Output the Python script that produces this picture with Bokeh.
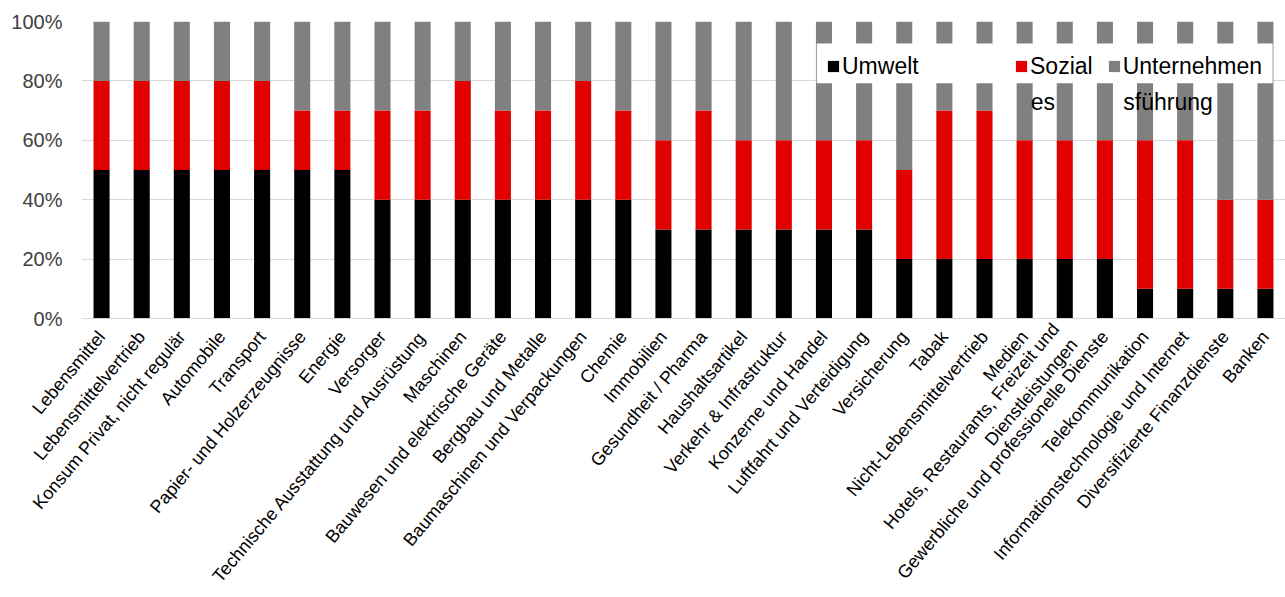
from math import radians

from bokeh.embed import file_html
from bokeh.models import (BoxAnnotation, ColumnDataSource, FactorRange, FixedTicker,
                          Label, Legend, LegendItem, PrintfTickFormatter, Range1d)
from bokeh.plotting import figure
from bokeh.resources import INLINE

# Sector weighting of the three ESG pillars (percent of the total score)
sectors = [
    "Lebensmittel",
    "Lebensmittelvertrieb",
    "Konsum Privat, nicht regulär",
    "Automobile",
    "Transport",
    "Papier- und Holzerzeugnisse",
    "Energie",
    "Versorger",
    "Technische Ausstattung und Ausrüstung",
    "Maschinen",
    "Bauwesen und elektrische Geräte",
    "Bergbau und Metalle",
    "Baumaschinen und Verpackungen",
    "Chemie",
    "Immobilien",
    "Gesundheit / Pharma",
    "Haushaltsartikel",
    "Verkehr & Infrastruktur",
    "Konzerne und Handel",
    "Luftfahrt und Verteidigung",
    "Versicherung",
    "Tabak",
    "Nicht-Lebensmittelvertrieb",
    "Medien",
    "Hotels, Restaurants, Freizeit und\nDienstleistungen",
    "Gewerbliche und professionelle Dienste",
    "Telekommunikation",
    "Informationstechnologie und Internet",
    "Diversifizierte Finanzdienste",
    "Banken",
]
umwelt = [50, 50, 50, 50, 50, 50, 50, 40, 40, 40, 40, 40, 40, 40, 30,
          30, 30, 30, 30, 30, 20, 20, 20, 20, 20, 20, 10, 10, 10, 10]
soziales = [30, 30, 30, 30, 30, 20, 20, 30, 30, 40, 30, 30, 40, 30, 30,
            40, 30, 30, 30, 30, 30, 50, 50, 40, 40, 40, 50, 50, 30, 30]
fuehrung = [20, 20, 20, 20, 20, 30, 30, 30, 30, 20, 30, 30, 20, 30, 40,
            30, 40, 40, 40, 40, 50, 30, 30, 40, 40, 40, 40, 40, 60, 60]
# legend captions: first line in the legend row, continuation wraps below
legend_first = ["Umwelt", "Sozial", "Unternehmen"]
legend_wrap = ["", "es", "sführung"]
y_ticks = [0, 20, 40, 60, 80, 100]

colors = ["#000000", "#e00000", "#808080"]
FONT = "Liberation Sans"

source = ColumnDataSource(dict(sector=sectors, umwelt=umwelt,
                               soziales=soziales, fuehrung=fuehrung))

p = figure(
    x_range=FactorRange(*sectors),
    y_range=Range1d(0, 100),
    width=1285, height=597,
    output_backend="svg", toolbar_location=None,
    min_border_left=81, min_border_right=0,
    min_border_top=21, min_border_bottom=279,
)
p.outline_line_color = None
p.background_fill_color = "white"
p.border_fill_color = "white"

bars = p.vbar_stack(["umwelt", "soziales", "fuehrung"], x="sector", width=0.4,
                    color=colors, line_color=None, source=source)

# grid
p.xgrid.grid_line_color = None
p.ygrid.grid_line_color = "#d9d9d9"
p.ygrid.grid_line_width = 1
p.yaxis.ticker = FixedTicker(ticks=y_ticks)

# y axis
p.yaxis.formatter = PrintfTickFormatter(format="%d%%")
p.yaxis.axis_line_color = None
p.yaxis.major_tick_line_color = None
p.yaxis.minor_tick_line_color = None
p.yaxis.major_tick_out = 0
p.yaxis.major_tick_in = 0
p.yaxis.major_label_standoff = 19
p.yaxis.major_label_text_font = FONT
p.yaxis.major_label_text_font_size = "20px"
p.yaxis.major_label_text_color = "#404040"

# x axis
p.xaxis.axis_line_color = "#d9d9d9"
p.xaxis.major_tick_line_color = None
p.xaxis.minor_tick_line_color = None
p.xaxis.major_tick_out = 0
p.xaxis.major_tick_in = 0
p.xaxis.major_label_orientation = radians(50)
p.xaxis.major_label_standoff = 15
p.xaxis.major_label_text_font = FONT
p.xaxis.major_label_text_font_size = "18px"
p.xaxis.major_label_text_color = "#000000"

# white backing strip behind the legend row
p.add_layout(BoxAnnotation(left=18.32, right=29.68, bottom=79.2, top=92.6,
                           fill_color="white", fill_alpha=1.0,
                           line_color=None))

legend_style = dict(
    orientation="horizontal",
    background_fill_alpha=0.0,
    border_line_alpha=0.0,
    padding=0, margin=0,
    glyph_width=14, glyph_height=14,
    label_standoff=2,
    label_height=28,
    spacing=14,
    label_text_font=FONT,
    label_text_font_size="23px",
    label_text_color="#000000",
)

leg1 = Legend(items=[LegendItem(label=legend_first[0], renderers=[bars[0]])],
              location=(745, 238), **legend_style)
leg2 = Legend(items=[LegendItem(label=legend_first[1], renderers=[bars[1]]),
                     LegendItem(label=legend_first[2], renderers=[bars[2]])],
              location=(933, 238), **legend_style)
p.add_layout(leg1)
p.add_layout(leg2)

# wrapped second lines of the two long legend captions
for text, x in ((legend_wrap[1], 23.65), (legend_wrap[2], 25.96)):
    p.add_layout(Label(x=x, y=72.8, text=text, text_font=FONT,
                       text_font_size="23px", text_color="#000000",
                       text_baseline="alphabetic"))

open("out.html", "w").write(file_html(p, INLINE))
